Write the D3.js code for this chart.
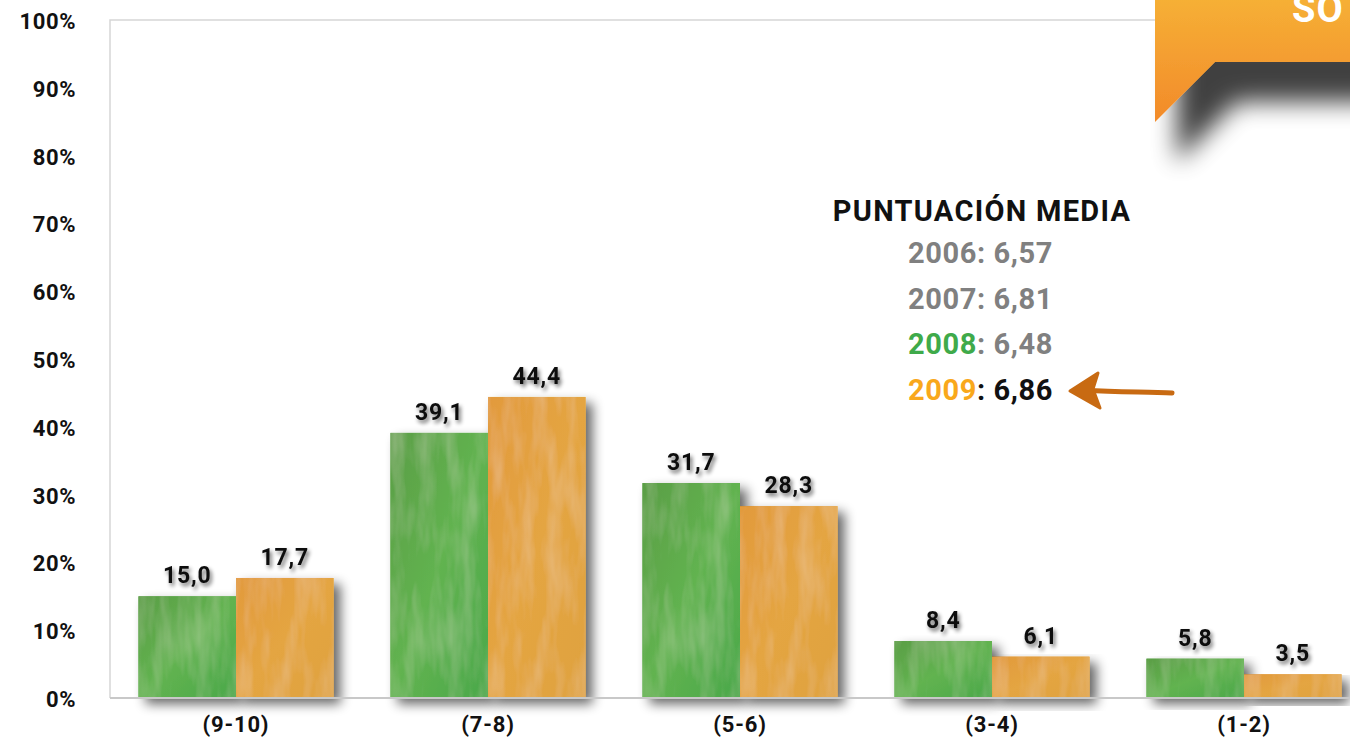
<!DOCTYPE html>
<html>
<head>
<meta charset="utf-8">
<script src="https://d3js.org/d3.v7.min.js"></script>
<style>
  body { margin: 0; background: #fff; }
  svg text { font-family: "Roboto", "DejaVu Sans", sans-serif; font-weight: 700; }
</style>
</head>
<body>
<div id="chart"></div>
<script>
// data
var categories = ["(9-10)", "(7-8)", "(5-6)", "(3-4)", "(1-2)"];
var values2008 = [15.0, 39.1, 31.7, 8.4, 5.8];
var values2009 = [17.7, 44.4, 28.3, 6.1, 3.5];
var yTicks = [0, 10, 20, 30, 40, 50, 60, 70, 80, 90, 100];
var legendTitle = "PUNTUACIÓN MEDIA";
var legendYears = ["2006", "2007", "2008", "2009"];
var legendScores = ["6,57", "6,81", "6,48", "6,86"];

var width = 1350, height = 740;
var svg = d3.select("#chart").append("svg").attr("width", width).attr("height", height);
var defs = svg.append("defs");

// shadows
var sh = defs.append("filter").attr("id", "barShadow").attr("x", "-20%").attr("y", "-20%").attr("width", "150%").attr("height", "150%");
sh.append("feGaussianBlur").attr("in", "SourceAlpha").attr("stdDeviation", 6);
sh.append("feOffset").attr("dx", 7).attr("dy", 6).attr("result", "b");
sh.append("feComponentTransfer").append("feFuncA").attr("type", "linear").attr("slope", 0.6);
var m = sh.append("feMerge"); m.append("feMergeNode"); m.append("feMergeNode").attr("in", "SourceGraphic");

var ts = defs.append("filter").attr("id", "textShadow").attr("x", "-20%").attr("y", "-30%").attr("width", "150%").attr("height", "180%");
ts.append("feGaussianBlur").attr("in", "SourceAlpha").attr("stdDeviation", 2);
ts.append("feOffset").attr("dx", 2).attr("dy", 3).attr("result", "b");
ts.append("feComponentTransfer").append("feFuncA").attr("type", "linear").attr("slope", 0.6);
var m2 = ts.append("feMerge"); m2.append("feMergeNode"); m2.append("feMergeNode").attr("in", "SourceGraphic");

var bs = defs.append("filter").attr("id", "bannerShadow").attr("x", "-40%").attr("y", "-40%").attr("width", "180%").attr("height", "250%");
bs.append("feGaussianBlur").attr("in", "SourceAlpha").attr("stdDeviation", 12);
bs.append("feOffset").attr("dx", 22).attr("dy", 40).attr("result", "b");
bs.append("feComponentTransfer").append("feFuncA").attr("type", "linear").attr("slope", 0.75);
var m3 = bs.append("feMerge"); m3.append("feMergeNode"); m3.append("feMergeNode").attr("in", "SourceGraphic");

// painterly texture
function paint(id, c1, c2, c3, seed) {
  var g = defs.append("linearGradient").attr("id", id).attr("x1", 0).attr("y1", 0).attr("x2", 1).attr("y2", 1);
  g.append("stop").attr("offset", "0%").attr("stop-color", c1);
  g.append("stop").attr("offset", "50%").attr("stop-color", c2);
  g.append("stop").attr("offset", "100%").attr("stop-color", c3);
  var f = defs.append("filter").attr("id", id + "Tex");
  f.append("feTurbulence").attr("type", "fractalNoise").attr("baseFrequency", "0.07 0.015").attr("numOctaves", 3).attr("seed", seed).attr("result", "n");
  f.append("feColorMatrix").attr("in", "n").attr("type", "matrix")
    .attr("values", "0 0 0 0 1  0 0 0 0 1  0 0 0 0 0.8  0.3 0 0 0 -0.12").attr("result", "w");
  f.append("feComposite").attr("in", "w").attr("in2", "SourceGraphic").attr("operator", "atop");
}
paint("green", "#5a9e45", "#62b350", "#4aa84a", 3);
paint("orange", "#e29a3c", "#e4a542", "#dfa23e", 7);

var x = d3.scaleBand().domain(categories).range([110, 1370]).paddingInner(0.226).paddingOuter(0.113);
var x1 = d3.scaleBand().domain(["2008", "2009"]).range([0, x.bandwidth()]);
var y = d3.scaleLinear().domain([0, 100]).range([698, 20]);

// frame
svg.append("path").attr("d", "M110," + y(0) + "V" + y(100) + "H" + width)
  .attr("fill", "none").attr("stroke", "#d6d6d6").attr("stroke-width", 1.5);

// y labels
svg.append("g").selectAll("text").data(yTicks).enter().append("text")
  .attr("x", 76).attr("y", d => y(d) + 9).attr("text-anchor", "end")
  .attr("font-size", 22).attr("letter-spacing", 0.6).attr("fill", "#111").text(d => d + "%");

// bars
var groups = categories.map((c, i) => ({ c: c, v: [{ k: "2008", v: values2008[i] }, { k: "2009", v: values2009[i] }] }));
var gg = svg.append("g").selectAll("g").data(groups).enter().append("g")
  .attr("transform", d => "translate(" + x(d.c) + ",0)");

gg.selectAll("rect").data(d => d.v.slice().reverse()).enter().append("rect")
  .attr("x", d => x1(d.k)).attr("y", d => y(d.v))
  .attr("width", x1.bandwidth()).attr("height", d => y(0) - y(d.v))
  .attr("fill", d => d.k == "2008" ? "url(#green)" : "url(#orange)")
  .attr("filter", "url(#barShadow)");
gg.selectAll("rect.tex").data(d => d.v).enter().append("rect").attr("class", "tex")
  .attr("x", d => x1(d.k)).attr("y", d => y(d.v))
  .attr("width", x1.bandwidth()).attr("height", d => y(0) - y(d.v))
  .attr("fill", d => d.k == "2008" ? "url(#green)" : "url(#orange)")
  .attr("filter", d => d.k == "2008" ? "url(#greenTex)" : "url(#orangeTex)");

gg.selectAll("text").data(d => d.v).enter().append("text")
  .attr("x", d => x1(d.k) + x1.bandwidth() / 2)
  .attr("y", d => y(d.v) - 13)
  .attr("text-anchor", "middle").attr("font-size", 23).attr("letter-spacing", 0.8).attr("fill", "#111")
  .attr("filter", "url(#textShadow)")
  .text(d => d.v.toFixed(1).replace(".", ","));

// axis line
svg.append("line").attr("x1", 110).attr("x2", width).attr("y1", y(0)).attr("y2", y(0))
  .attr("stroke", "#c8c8c8").attr("stroke-width", 2);

// category labels
svg.append("g").selectAll("text").data(categories).enter().append("text")
  .attr("x", d => x(d) + x.bandwidth() / 2).attr("y", 732).attr("text-anchor", "middle")
  .attr("font-size", 22).attr("letter-spacing", 0.8).attr("fill", "#111").text(d => d);

// legend
var lg = svg.append("g");
lg.append("text").attr("x", 982).attr("y", 221).attr("text-anchor", "middle")
  .attr("font-size", 29).attr("letter-spacing", 1.3).attr("fill", "#111").text(legendTitle);
var yearColor = ["#808080", "#808080", "#3faa4a", "#f9a81b"];
legendYears.forEach(function (yr, i) {
  var t = lg.append("text").attr("x", 908).attr("y", 263 + i * 45.5).attr("font-size", 29).attr("letter-spacing", 0.6);
  t.append("tspan").attr("fill", yearColor[i]).text(yr);
  t.append("tspan").attr("fill", i == 3 ? "#111" : "#808080").text(": " + legendScores[i]);
});

// hand-drawn arrow
lg.append("path")
  .attr("d", "M1172,393 C1150,391 1120,393 1085,390")
  .attr("fill", "none").attr("stroke", "#c86a12").attr("stroke-width", 5).attr("stroke-linecap", "round");
lg.append("path")
  .attr("d", "M1070,391 L1098,373 L1093,389 L1100,408 Z")
  .attr("fill", "#c86a12").attr("stroke", "#c86a12").attr("stroke-width", 3).attr("stroke-linejoin", "round");

// banner top-right
var bg = defs.append("linearGradient").attr("id", "banner").attr("x1", 0).attr("y1", 0).attr("x2", 0).attr("y2", 1);
bg.append("stop").attr("offset", "0%").attr("stop-color", "#f6b136");
bg.append("stop").attr("offset", "100%").attr("stop-color", "#f28a2a");
svg.append("path").attr("d", "M1155,-5 H1380 V62 H1215 L1155,122 Z")
  .attr("fill", "url(#banner)").attr("filter", "url(#bannerShadow)");
svg.append("text").attr("x", 1292).attr("y", 22).attr("font-size", 38).attr("letter-spacing", 1).attr("fill", "#fff").text("SO");
</script>
</body>
</html>
